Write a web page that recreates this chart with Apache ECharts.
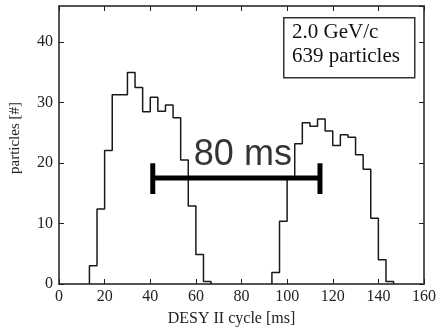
<!DOCTYPE html>
<html>
<head>
<meta charset="utf-8">
<script src="https://cdn.jsdelivr.net/npm/echarts@6/dist/echarts.min.js"></script>
<style>
  html, body { margin: 0; padding: 0; background: #fff; }
  #chart { width: 439px; height: 332px; }
</style>
</head>
<body>
<div id="chart"></div>
<script>
// Time histogram of particles over one DESY II cycle (bins of 10/3 ms)
const binWidth = 10 / 3;
const firstPulseStart = 13.333;
const firstPulseCounts = [3.0, 12.4, 22.1, 31.3, 31.3, 35.0, 32.5, 28.5, 30.9, 28.6, 29.6, 27.5, 20.5, 12.9, 4.9, 0.4];
const secondPulseStart = 93.333;
const secondPulseCounts = [1.9, 10.4, 17.6, 23.2, 26.7, 26.1, 27.3, 25.3, 22.9, 24.7, 24.3, 21.4, 19.0, 10.9, 4.0, 0.4];

// Axis ranges
const xRange = [0, 160];
const xStep = 20;
const yRange = [0, 46];
const yStep = 10;

// Spacing marker between the two pulses
const spanX = [41.1, 114.4];
const spanY = 17.55;
const capY = [14.9, 20.0];
const spanLabel = '80 ms';
const spanLabelPos = [80.6, 21.4];

// Info box lines
const infoLines = ['2.0 GeV/c', '639 particles'];

function stepOutline(start, counts) {
  const pts = [[start, 0]];
  counts.forEach((c, i) => {
    const x0 = start + i * binWidth;
    pts.push([x0, c], [x0 + binWidth, c]);
  });
  pts.push([start + counts.length * binWidth, 0]);
  return pts;
}

const serif = 'Liberation Serif, Times New Roman, serif';
const frameLine = { show: true, onZero: false, lineStyle: { color: '#555', width: 2 } };
const innerTick = { show: true, inside: true, length: 5, lineStyle: { color: '#222', width: 1 } };

const chart = echarts.init(document.getElementById('chart'), null, { renderer: 'canvas' });

const histLine = { color: '#1a1a1a', width: 1.5 };

chart.setOption({
  animation: false,
  backgroundColor: '#fff',
  grid: { left: 59, right: 14, top: 6, bottom: 48, containLabel: false },
  xAxis: [
    {
      type: 'value', min: xRange[0], max: xRange[1], interval: xStep,
      position: 'bottom',
      axisLine: frameLine, axisTick: innerTick, splitLine: { show: false },
      axisLabel: { color: '#222', fontFamily: serif, fontSize: 16, margin: 5 },
      name: 'DESY II cycle [ms]', nameLocation: 'middle', nameGap: 27,
      nameTextStyle: { color: '#222', fontFamily: serif, fontSize: 16, padding: [0, 20, 0, 0] }
    },
    {
      type: 'value', min: xRange[0], max: xRange[1], interval: xStep,
      position: 'top',
      axisLine: frameLine, axisTick: innerTick, splitLine: { show: false },
      axisLabel: { show: false }
    }
  ],
  yAxis: [
    {
      type: 'value', min: yRange[0], max: yRange[1], interval: yStep,
      position: 'left',
      axisLine: frameLine, axisTick: innerTick, splitLine: { show: false },
      axisLabel: { color: '#222', fontFamily: serif, fontSize: 16, margin: 6, showMaxLabel: false },
      name: 'particles [#]', nameLocation: 'middle', nameGap: 36, nameRotate: 90,
      nameTextStyle: { color: '#222', fontFamily: serif, fontSize: 15, padding: [0, 0, 0, 14] }
    },
    {
      type: 'value', min: yRange[0], max: yRange[1], interval: yStep,
      position: 'right',
      axisLine: frameLine, axisTick: innerTick, splitLine: { show: false },
      axisLabel: { show: false }
    }
  ],
  series: [
    {
      type: 'line', data: stepOutline(firstPulseStart, firstPulseCounts),
      showSymbol: false, lineStyle: histLine, z: 2
    },
    {
      type: 'line', data: stepOutline(secondPulseStart, secondPulseCounts),
      showSymbol: false, lineStyle: histLine, z: 2
    },
    {
      type: 'line', data: [[spanX[0], spanY], [spanX[1], spanY]],
      showSymbol: false, lineStyle: { color: '#000', width: 5, cap: 'butt' }, z: 4
    },
    {
      type: 'line', data: [[spanX[0], capY[0]], [spanX[0], capY[1]]],
      showSymbol: false, lineStyle: { color: '#000', width: 5, cap: 'butt' }, z: 4
    },
    {
      type: 'line', data: [[spanX[1], capY[0]], [spanX[1], capY[1]]],
      showSymbol: false, lineStyle: { color: '#000', width: 5, cap: 'butt' }, z: 4
    },
    {
      type: 'scatter', data: [spanLabelPos], symbolSize: 0, z: 5,
      label: {
        show: true, position: 'inside', formatter: spanLabel,
        color: '#000', fontFamily: 'Liberation Sans, Arial, sans-serif', fontSize: 36
      }
    }
  ],
  graphic: [
    {
      type: 'rect', left: 283, top: 17, z: 10,
      shape: { width: 131, height: 60 },
      style: { fill: '#fff', stroke: '#333', lineWidth: 1.5 }
    },
    {
      type: 'text', left: 292, top: 22, z: 11,
      style: { text: infoLines[0], font: '21px ' + serif, fill: '#111' }
    },
    {
      type: 'text', left: 292, top: 46, z: 11,
      style: { text: infoLines[1], font: '21px ' + serif, fill: '#111' }
    }
  ]
});
</script>
</body>
</html>
